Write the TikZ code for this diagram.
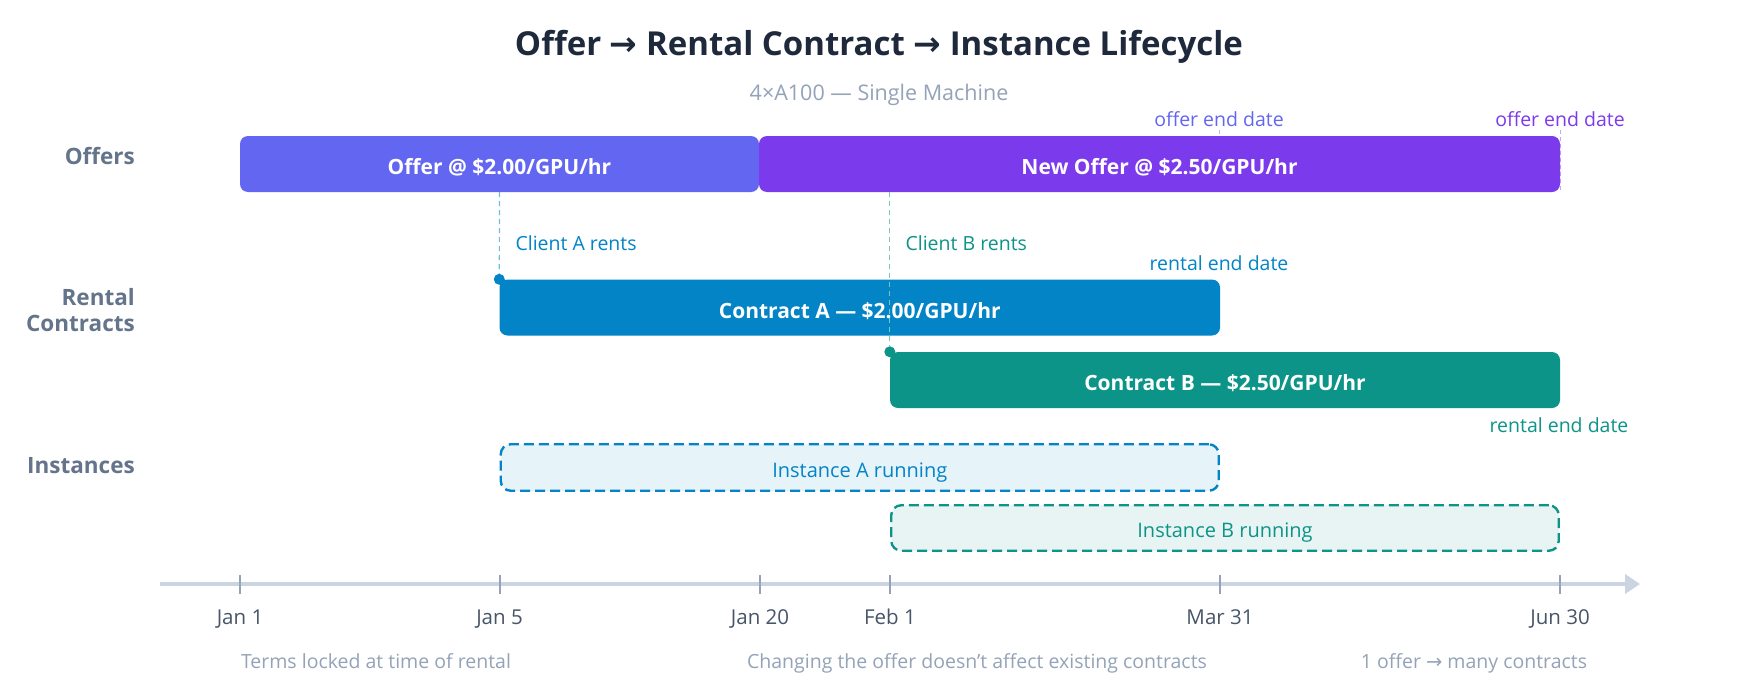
\documentclass[tikz,border=0pt]{standalone}
\usepackage{fontspec}
\setmainfont{Open Sans}
\newfontfamily\arrowfont{DejaVu Sans}
\usetikzlibrary{arrows.meta,backgrounds}
\definecolor{ink}{HTML}{1E293B}
\definecolor{subgray}{HTML}{94A3B8}
\definecolor{rowgray}{HTML}{64748B}
\definecolor{dategray}{HTML}{475569}
\definecolor{axisgray}{HTML}{CBD5E1}
\definecolor{offA}{HTML}{6366F1}
\definecolor{offB}{HTML}{7C3AED}
\definecolor{conA}{HTML}{0284C7}
\definecolor{conB}{HTML}{0D9488}
\definecolor{insA}{HTML}{E6F3F9}
\definecolor{insB}{HTML}{E7F4F3}
\newcommand{\fsz}[1]{\fontsize{#1}{#1}\selectfont}
\begin{document}
\begin{tikzpicture}[x=1pt, y=-1pt,
  bar/.style={rectangle, rounded corners=8pt, inner sep=0pt, minimum height=56pt, text=white, font=\bfseries\fsz{21}, text height=21pt, text depth=0pt},
  runbox/.style={rectangle, rounded corners=10pt, inner sep=0pt, line width=2.4pt, dash pattern=on 10pt off 5pt, font=\fsz{20}, text height=19pt, text depth=0pt},
  rowlabel/.style={anchor=base east, inner sep=0pt, font=\bfseries\fontsize{22.5}{26}\selectfont, text=rowgray},
  endnote/.style={anchor=base, font=\fsz{19.5}},
  dot/.style={circle, inner sep=0pt, minimum size=11pt},
  link/.style={line width=1.2pt, dash pattern=on 5pt off 4pt},
  endline/.style={line width=1pt, dash pattern=on 4pt off 3pt},
  tick/.style={rectangle, inner sep=0pt, fill=subgray, minimum width=2pt, minimum height=19pt},
  date/.style={anchor=base, font=\fsz{20.5}, text=dategray},
  foot/.style={anchor=base, font=\fsz{19.5}, text=subgray}]
\useasboundingbox (0,0) rectangle (1760,680);
% title
\node[anchor=base, font=\bfseries\fsz{33}, text=ink] (title) at (879,55) {Offer {\arrowfont →} Rental Contract {\arrowfont →} Instance Lifecycle};
\node[anchor=base, font=\fsz{21.5}, text=subgray] (sub) at (879,100) {4×A100 — Single Machine};
% row labels
\node[rowlabel] (rowoff) at (135,164) {Offers};
\node[rowlabel, anchor=east, align=right] (rowcon) at (135,310) {Rental\\Contracts};
\node[rowlabel] (rowins) at (135,473) {Instances};
% offers
\node[bar, fill=offA, minimum width=519pt] (off0) at (499.5,164) {Offer @ \$2.00/GPU/hr};
\node[bar, fill=offB, minimum width=801pt] (off1) at (1159.5,164) {New Offer @ \$2.50/GPU/hr};
\node[endnote, text=offA] (oend0) at (1219,126) {offer end date};
\node[endnote, text=offB] (oend1) at (1560,126) {offer end date};
% contracts
\node[bar, fill=conA, minimum width=720.5pt] (con0) at (859.75,307.5) {Contract A — \$2.00/GPU/hr};
\node[bar, fill=conB, minimum width=670pt] (con1) at (1225,380) {Contract B — \$2.50/GPU/hr};
\node[dot, fill=conA] (dot0) at (con0.north west){};
\node[dot, fill=conB] (dot1) at (con1.north west){};
\draw[link, conA!55] (off0.south) -- (dot0.north);
\draw[link, conB!55] (dot1 |- off1.south) -- (dot1.north);
\node[endnote, anchor=base west, text=conA] (cliA) at (512,250) {Client A rents};
\node[endnote, anchor=base west, text=conB] (cliB) at (902,250) {Client B rents};
\node[endnote, text=conA] (rendA) at (1219,270) {rental end date};
\node[endnote, text=conB] (rendB) at (1559,432) {rental end date};
% instances
\node[runbox, draw=conA, fill=insA, text=conA, minimum width=718pt, minimum height=46.5pt] (ins0) at (859.75,467.5) {Instance A running};
\node[runbox, draw=conB, fill=insB, text=conB, minimum width=667.5pt, minimum height=45.5pt] (ins1) at (1225,528) {Instance B running};
% time axis
\coordinate (ax0) at (160,584);
\coordinate (ax1) at (1640,584);
\draw[line width=4pt, axisgray, -{Triangle[length=15pt,width=19pt]}] (ax0) -- (ax1);
\node[tick] (tk0) at (240,584){};
\node[tick] (tk1) at (499.5,584){};
\node[tick] (tk2) at (760,584){};
\node[tick] (tk3) at (890,584){};
\node[tick] (tk4) at (1220,584){};
\node[tick] (tk5) at (1560,584){};
\node[date] (d0) at (240,624) {Jan 1};
\node[date] (d1) at (499.5,624) {Jan 5};
\node[date] (d2) at (760,624) {Jan 20};
\node[date] (d3) at (890,624) {Feb 1};
\node[date] (d4) at (1220,624) {Mar 31};
\node[date] (d5) at (1560,624) {Jun 30};
% notes
\node[foot] (f0) at (376,668) {Terms locked at time of rental};
\node[foot] (f1) at (977,668) {Changing the offer doesn\char39 t affect existing contracts};
\node[foot] (f2) at (1474,668) {1 offer {\arrowfont →} many contracts};
\begin{pgfonlayer}{background}
\fill[white] (0,0) rectangle (1760,680);
\draw[endline, offA!45] (oend0.south) -- (oend0.south |- off1.south);
\draw[endline, offB!45] (oend1.south) -- (oend1.south |- off1.south);
\end{pgfonlayer}
\end{tikzpicture}
\end{document}
